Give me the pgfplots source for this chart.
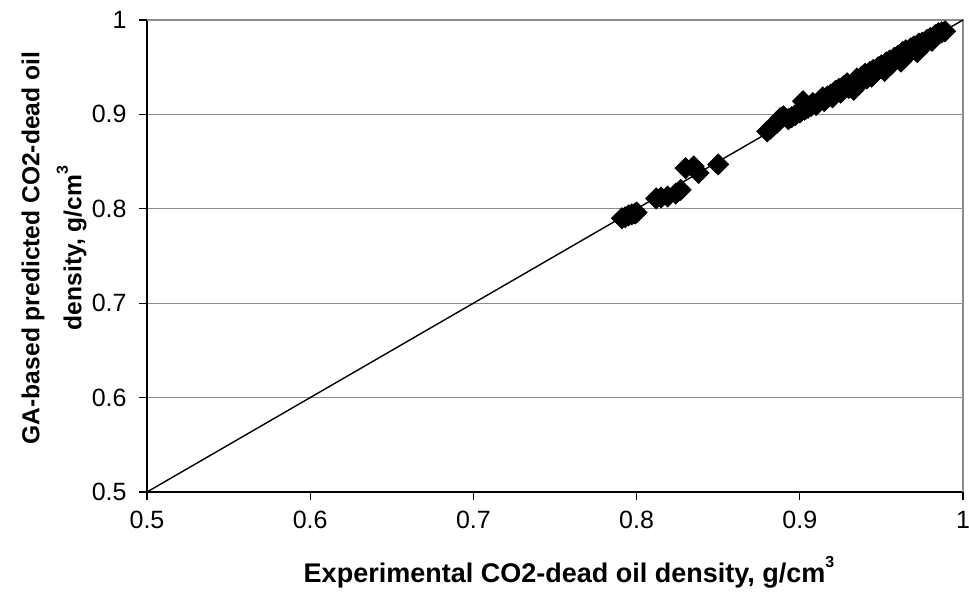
\documentclass[border=0pt]{standalone}
\usepackage{pgfplots}
\pgfplotsset{compat=1.18}
\usepackage{fontspec}
\setmainfont{Liberation Sans}
\pgfplotstableread{
x y
0.791 0.790
0.793 0.791
0.795 0.793
0.797 0.794
0.799 0.795
0.800 0.796
0.812 0.811
0.815 0.812
0.819 0.813
0.824 0.816
0.827 0.820
0.830 0.843
0.835 0.845
0.838 0.838
0.850 0.847
0.880 0.882
0.882 0.885
0.884 0.888
0.886 0.891
0.888 0.896
0.890 0.898
0.893 0.895
0.895 0.897
0.897 0.899
0.900 0.902
0.902 0.914
0.903 0.905
0.905 0.907
0.907 0.909
0.908 0.912
0.910 0.910
0.912 0.914
0.914 0.918
0.915 0.914
0.917 0.919
0.919 0.921
0.920 0.918
0.922 0.925
0.924 0.927
0.925 0.923
0.927 0.930
0.929 0.933
0.930 0.928
0.932 0.931
0.933 0.926
0.934 0.935
0.935 0.938
0.936 0.932
0.938 0.940
0.940 0.943
0.941 0.938
0.943 0.945
0.944 0.940
0.945 0.947
0.946 0.944
0.948 0.950
0.950 0.952
0.951 0.948
0.952 0.946
0.953 0.955
0.955 0.957
0.956 0.953
0.958 0.960
0.960 0.962
0.961 0.958
0.962 0.956
0.963 0.966
0.965 0.968
0.966 0.963
0.968 0.970
0.970 0.972
0.971 0.968
0.972 0.966
0.973 0.975
0.975 0.976
0.976 0.973
0.978 0.979
0.980 0.981
0.981 0.978
0.983 0.984
0.985 0.986
0.987 0.987
0.989 0.988
}\datatable
\newcommand{\cube}{\raisebox{0.55em}{\fontsize{8}{8}\selectfont 3}}
\begin{document}
\begin{tikzpicture}
\path[use as bounding box] (-73.5pt,-53pt) rectangle (411pt,246pt);
\begin{axis}[
  at={(0,0)}, anchor=south west,
  scale only axis, width=408pt, height=236pt,
  xmin=0.5, xmax=1, ymin=0.5, ymax=1,
  xtick={0.5,0.6,0.7,0.8,0.9,1}, ytick={0.5,0.6,0.7,0.8,0.9,1},
  xticklabels={0.5,0.6,0.7,0.8,0.9,1},
  yticklabels={0.5,0.6,0.7,0.8,0.9,1},
  axis x line*=bottom, axis y line*=left,
  axis line style={black, line width=0.6pt, -},
  tick align=outside, major tick length=4pt,
  tick style={black, line width=0.6pt},
  ymajorgrids, grid style={gray!90, line width=0.6pt},
  tick label style={font=\fontsize{12.5}{15}\selectfont},
  xticklabel style={anchor=north, inner sep=0pt, yshift=-5.5pt},
  yticklabel style={anchor=east, inner sep=0pt, xshift=-6pt},
  /pgf/number format/assume math mode=true,
  clip=false,
]
\draw[gray!90, line width=0.6pt] (rel axis cs:0,1) -- (rel axis cs:1,1) -- (rel axis cs:1,0);
\addplot[black, line width=0.7pt] coordinates {(0.5,0.5) (1,1)};
\addplot[only marks, mark=square*, mark size=3.7pt, mark options={rotate=45, black, fill=black}] table[x=x,y=y] {\datatable};
\end{axis}
\node[font=\fontsize{13.5}{16}\selectfont\bfseries] at (211pt,-40pt) {Experimental CO2-dead oil density, g/cm\cube};
\node[font=\fontsize{12.3}{21}\selectfont\bfseries, rotate=90, align=center] at (-46.5pt,122pt) {GA-based predicted CO2-dead oil\\density, g/cm\cube};
\end{tikzpicture}
\end{document}
